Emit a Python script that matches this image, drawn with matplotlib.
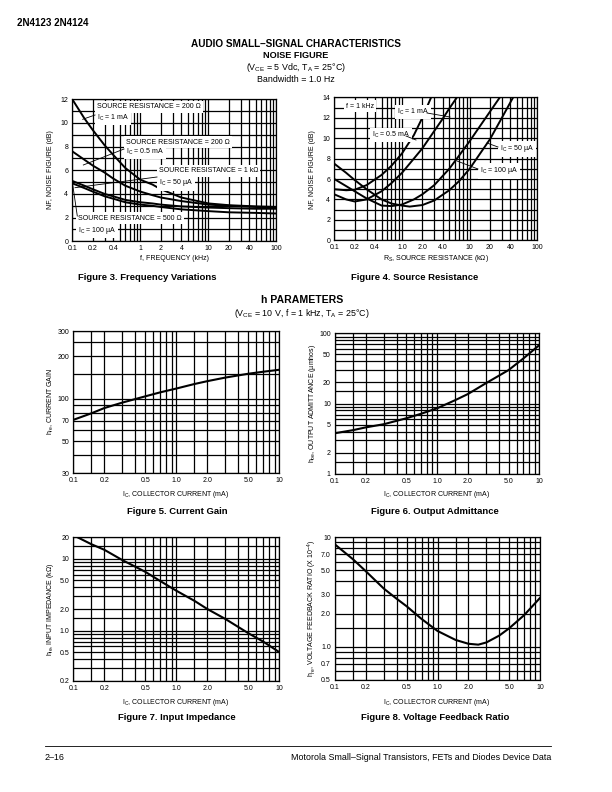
import numpy as np
import matplotlib
matplotlib.use("Agg")
import matplotlib.pyplot as plt
from matplotlib.lines import Line2D
from matplotlib.ticker import NullFormatter

matplotlib.rcParams['font.family'] = ['Liberation Sans', 'DejaVu Sans']
matplotlib.rcParams['mathtext.fontset'] = 'custom'
matplotlib.rcParams['mathtext.rm'] = 'Liberation Sans'
matplotlib.rcParams['mathtext.it'] = 'Liberation Sans:italic'
matplotlib.rcParams['axes.unicode_minus'] = False

W, H = 612, 792

# ---- Figure 3: noise figure vs frequency
f_khz = [0.1, 0.15, 0.2, 0.3, 0.4, 0.6, 1, 1.5, 2, 4, 10, 20, 50, 100]
nf_200_1ma = [12.0, 10.4, 9.4, 8.1, 7.3, 6.2, 5.2, 4.8, 4.4, 3.7, 3.2, 3.05, 2.95, 2.9]
nf_200_05ma = [7.6, 6.9, 6.4, 5.8, 5.3, 4.7, 4.2, 3.9, 3.7, 3.4, 3.1, 3.0, 2.9, 2.85]
nf_1k_50ua = [5.1, 4.7, 4.4, 4.0, 3.8, 3.5, 3.3, 3.2, 3.1, 2.95, 2.85, 2.8, 2.75, 2.75]
nf_500_100ua = [4.9, 4.5, 4.2, 3.8, 3.6, 3.3, 3.1, 3.0, 2.9, 2.7, 2.55, 2.45, 2.4, 2.35]

# ---- Figure 4: noise figure vs source resistance (f = 1 kHz)
rs_a = [0.1, 0.15, 0.2, 0.3, 0.5, 0.7, 1.0, 1.5, 2.0, 2.7]
nf_a = [5.0, 4.9, 4.95, 5.4, 6.4, 7.3, 8.5, 10.3, 12.0, 14.0]
rs_b = [0.1, 0.15, 0.2, 0.3, 0.5, 0.7, 1.0, 1.5, 2.0, 3.0, 4.0, 5.0, 6.5]
nf_b = [4.5, 4.0, 3.8, 4.0, 4.8, 5.6, 6.6, 8.0, 9.0, 10.7, 11.9, 12.9, 14.0]
rs_100ua = [0.1, 0.15, 0.2, 0.3, 0.5, 0.7, 1.0, 1.5, 2, 3, 5, 7, 10, 15, 20, 28]
nf_100ua = [6.0, 5.3, 4.8, 4.1, 3.4, 3.35, 3.5, 4.0, 4.5, 5.4, 7.0, 8.3, 9.7, 11.4, 12.6, 14.0]
rs_50ua = [0.1, 0.15, 0.2, 0.3, 0.5, 0.7, 1.0, 1.3, 2, 3, 5, 7, 10, 15, 20, 30, 44]
nf_50ua = [7.5, 6.6, 5.9, 5.0, 4.0, 3.6, 3.4, 3.3, 3.45, 3.9, 4.9, 5.8, 7.0, 8.7, 9.9, 12.0, 14.0]

# ---- Figures 5-8: h parameters vs collector current
ic_ma = [0.1, 0.15, 0.2, 0.3, 0.5, 0.7, 1.0, 1.5, 2.0, 3.0, 5.0, 7.0, 10]
hfe = [71, 79, 86, 94, 104, 111, 118, 127, 133, 141, 150, 155, 160]
hoe = [3.8, 4.2, 4.6, 5.1, 6.2, 7.2, 8.6, 11.2, 13.7, 19.5, 30, 44, 68]
ic_hie = [0.11, 0.15, 0.2, 0.3, 0.5, 0.7, 1.0, 1.5, 2.0, 3.0, 5.0, 7.0, 10]
hie = [20, 16, 13.4, 9.6, 6.6, 4.9, 3.6, 2.6, 2.0, 1.45, 0.92, 0.7, 0.5]
ic_hre = [0.1, 0.15, 0.2, 0.3, 0.4, 0.5, 0.7, 1.0, 1.5, 2.0, 2.5, 3.0, 4.0, 5.0, 7.0, 10]
hre = [8.6, 6.3, 4.9, 3.4, 2.75, 2.35, 1.8, 1.4, 1.16, 1.07, 1.05, 1.1, 1.27, 1.48, 1.95, 2.8]

dec = [1, 1.5, 2, 3, 4, 5, 6, 7, 8, 9]
dec_nf = [1, 2, 3, 4, 5, 6, 7, 8, 9]

fig = plt.figure(figsize=(6.12, 7.92), dpi=100)


def box(l, t, r, b):
    return fig.add_axes([l / W, 1 - b / H, (r - l) / W, (b - t) / H])


def txt(x, y, s, **kw):
    kw.setdefault('fontsize', 5)
    kw.setdefault('va', 'center')
    return fig.text(x / W, 1 - y / H, s, **kw)


def leader(x0, y0, x1, y1):
    fig.add_artist(Line2D([x0 / W, x1 / W], [1 - y0 / H, 1 - y1 / H],
                          transform=fig.transFigure, color='k', lw=0.6, zorder=6))


def log_grid(lo, hi, steps):
    out = []
    for e in range(-2, 3):
        for m in steps:
            v = m * 10.0 ** e
            if lo * 0.999 <= v <= hi * 1.001:
                out.append(v)
    return out


def style(ax, xt, xl, yt, yl, xgrid, ygrid, ylog):
    ax.set_xscale('log')
    if ylog:
        ax.set_yscale('log')
    ax.set_xticks(xgrid, minor=True)
    ax.set_yticks(ygrid, minor=True)
    ax.set_xticks(xt, labels=xl)
    ax.set_yticks(yt, labels=yl)
    ax.xaxis.set_minor_formatter(NullFormatter())
    ax.yaxis.set_minor_formatter(NullFormatter())
    ax.grid(which='both', color='k', lw=0.9)
    ax.tick_params(which='both', length=0, labelsize=5, pad=3)
    for s in ax.spines.values():
        s.set_linewidth(0.9)
    ax.set_axisbelow(True)


curve = dict(color='k', lw=1.4, zorder=4)
hcurve = dict(color='k', lw=1.5, zorder=4)
bb = dict(facecolor='white', edgecolor='none', pad=1.5)
ic_sub = 'I$_\\mathregular{C}$'

# ---------------- Figure 3
ax3 = box(72.3, 99.3, 276.5, 241.3)
ax3.plot(f_khz, nf_200_1ma, **curve)
ax3.plot(f_khz, nf_200_05ma, **curve)
ax3.plot(f_khz, nf_1k_50ua, **curve)
ax3.plot(f_khz, nf_500_100ua, **curve)
ax3.set_xlim(0.1, 100)
ax3.set_ylim(0, 12)
style(ax3, [0.1, 0.2, 0.4, 1, 2, 4, 10, 20, 40, 100],
      ['0.1', '0.2', '0.4', '1', '2', '4', '10', '20', '40', '100'],
      list(range(0, 13, 2)), [str(v) for v in range(0, 13, 2)],
      log_grid(0.1, 100, dec_nf), list(range(0, 13)), False)

txt(97, 107, 'SOURCE RESISTANCE = 200 Ω', bbox=bb, zorder=5)
txt(97, 118, ic_sub + ' = 1 mA', bbox=bb, zorder=5)
txt(126, 142, 'SOURCE RESISTANCE = 200 Ω', bbox=bb, zorder=5)
txt(126, 152, ic_sub + ' = 0.5 mA', bbox=bb, zorder=5)
txt(159, 171, 'SOURCE RESISTANCE = 1 kΩ', bbox=bb, zorder=5)
txt(159, 183, ic_sub + ' = 50 µA', bbox=bb, zorder=5)
txt(78, 218, 'SOURCE RESISTANCE = 500 Ω', bbox=bb, zorder=5)
txt(78, 230, ic_sub + ' = 100 µA', bbox=bb, zorder=5)
leader(95, 115, 82.7, 119.3)
leader(124, 149, 83.3, 165)
leader(157, 177, 75, 187.7)
leader(77.3, 216, 72.5, 183.3)

txt(174, 259, 'f, FREQUENCY (kHz)', ha='center')
txt(51, 170, 'NF, NOISE FIGURE (dB)', ha='center', rotation=90)
txt(147, 278, 'Figure 3. Frequency Variations', ha='center', fontsize=6.8, fontweight='bold')

# ---------------- Figure 4
ax4 = box(334.3, 97.3, 537.3, 240.3)
ax4.plot(rs_a, nf_a, **curve)
ax4.plot(rs_b, nf_b, **curve)
ax4.plot(rs_100ua, nf_100ua, **curve)
ax4.plot(rs_50ua, nf_50ua, **curve)
ax4.set_xlim(0.1, 100)
ax4.set_ylim(0, 14)
style(ax4, [0.1, 0.2, 0.4, 1, 2, 4, 10, 20, 40, 100],
      ['0.1', '0.2', '0.4', '1.0', '2.0', '4.0', '10', '20', '40', '100'],
      list(range(0, 15, 2)), [str(v) for v in range(0, 15, 2)],
      log_grid(0.1, 100, dec_nf), list(range(0, 15)), False)

txt(346, 106, 'f = 1 kHz', bbox=bb, zorder=5)
txt(397, 112, ic_sub + ' = 1 mA', bbox=bb, zorder=5)
txt(372, 135, ic_sub + ' = 0.5 mA', bbox=bb, zorder=5)
txt(500, 149, ic_sub + ' = 50 µA', bbox=bb, zorder=5)
txt(480, 171, ic_sub + ' = 100 µA', bbox=bb, zorder=5)
leader(427, 113, 450, 117)
leader(406, 136, 416, 140)
leader(498, 147, 487, 143)
leader(478, 169, 457, 161)

txt(436, 258, 'R$_\\mathregular{S}$, SOURCE RESISTANCE (kΩ)', ha='center')
txt(313, 170, 'NF, NOISE FIGURE (dB)', ha='center', rotation=90)
txt(415, 278, 'Figure 4. Source Resistance', ha='center', fontsize=6.8, fontweight='bold')

# ---------------- h parameter axes
ic_ticks = [0.1, 0.2, 0.5, 1.0, 2.0, 5.0, 10]
ic_labels = ['0.1', '0.2', '0.5', '1.0', '2.0', '5.0', '10']
ic_grid = log_grid(0.1, 10, dec)
xlab = ic_sub + ', COLLECTOR CURRENT (mA)'

# Figure 5
ax5 = box(73.3, 331, 279.3, 473)
ax5.plot(ic_ma, hfe, **hcurve)
ax5.set_xlim(0.1, 10)
ax5.set_ylim(30, 300)
style(ax5, ic_ticks, ic_labels, [30, 50, 70, 100, 200, 300],
      ['30', '50', '70', '100', '200', '300'], ic_grid,
      [30, 40, 50, 60, 70, 80, 90, 100, 150, 200, 250, 300], True)
txt(176, 494, xlab, ha='center')
txt(51, 402, 'h$_\\mathregular{fe}$, CURRENT GAIN', ha='center', rotation=90)
txt(177, 511, 'Figure 5. Current Gain', ha='center', fontsize=6.8, fontweight='bold')

# Figure 6
ax6 = box(335, 333.3, 539.3, 474)
ax6.plot(ic_ma, hoe, **hcurve)
ax6.set_xlim(0.1, 10)
ax6.set_ylim(1, 100)
style(ax6, ic_ticks, ic_labels, [1, 2, 5, 10, 20, 50, 100],
      ['1', '2', '5', '10', '20', '50', '100'], ic_grid,
      log_grid(1, 100, dec), True)
txt(437, 494, xlab, ha='center')
txt(312, 403, 'h$_\\mathregular{oe}$, OUTPUT ADMITTANCE (µmhos)', ha='center', rotation=90)
txt(435, 511, 'Figure 6. Output Admittance', ha='center', fontsize=6.8, fontweight='bold')

# Figure 7
ax7 = box(73.3, 537.3, 279.3, 680.7)
ax7.plot(ic_hie, hie, **hcurve)
ax7.set_xlim(0.1, 10)
ax7.set_ylim(0.2, 20)
style(ax7, ic_ticks, ic_labels, [0.2, 0.5, 1.0, 2.0, 5.0, 10, 20],
      ['0.2', '0.5', '1.0', '2.0', '5.0', '10', '20'], ic_grid,
      log_grid(0.2, 20, dec), True)
txt(176, 702, xlab, ha='center')
txt(51, 609, 'h$_\\mathregular{ie}$, INPUT IMPEDANCE (kΩ)', ha='center', rotation=90)
txt(177, 717, 'Figure 7. Input Impedance', ha='center', fontsize=6.8, fontweight='bold')

# Figure 8
ax8 = box(335, 537.3, 540, 680)
ax8.plot(ic_hre, hre, **hcurve)
ax8.set_xlim(0.1, 10)
ax8.set_ylim(0.5, 10)
style(ax8, ic_ticks, ic_labels, [0.5, 0.7, 1.0, 2.0, 3.0, 5.0, 7.0, 10],
      ['0.5', '0.7', '1.0', '2.0', '3.0', '5.0', '7.0', '10'], ic_grid,
      log_grid(0.5, 10, dec), True)
txt(437, 702, xlab, ha='center')
txt(312, 609, 'h$_\\mathregular{re}$, VOLTAGE FEEDBACK RATIO (X 10$^\\mathregular{-4}$)',
    ha='center', rotation=90)
txt(435, 717, 'Figure 8. Voltage Feedback Ratio', ha='center', fontsize=6.8, fontweight='bold')

# ---------------- page text
txt(17, 23, '2N4123 2N4124', fontsize=7, fontweight='heavy')
txt(296, 44, 'AUDIO SMALL–SIGNAL CHARACTERISTICS', ha='center', fontsize=7.2, fontweight='bold')
txt(296, 56, 'NOISE FIGURE', ha='center', fontsize=6.6, fontweight='bold')
txt(296, 68, '(V$_\\mathregular{CE}$ = 5 Vdc, T$_\\mathregular{A}$ = 25°C)', ha='center', fontsize=6.4)
txt(296, 79, 'Bandwidth = 1.0 Hz', ha='center', fontsize=6.4)
txt(302, 300, 'h PARAMETERS', ha='center', fontsize=7.6, fontweight='bold')
txt(302, 313, '(V$_\\mathregular{CE}$ = 10 V, f = 1 kHz, T$_\\mathregular{A}$ = 25°C)', ha='center', fontsize=6.4)

fig.add_artist(Line2D([45 / W, 551 / W], [1 - 746 / H, 1 - 746 / H],
                      transform=fig.transFigure, color='k', lw=0.6))
txt(45, 758, '2–16', fontsize=6.4)
txt(551, 758, 'Motorola Small–Signal Transistors, FETs and Diodes Device Data',
    ha='right', fontsize=6.4)

fig.savefig('out.png', dpi=100)
